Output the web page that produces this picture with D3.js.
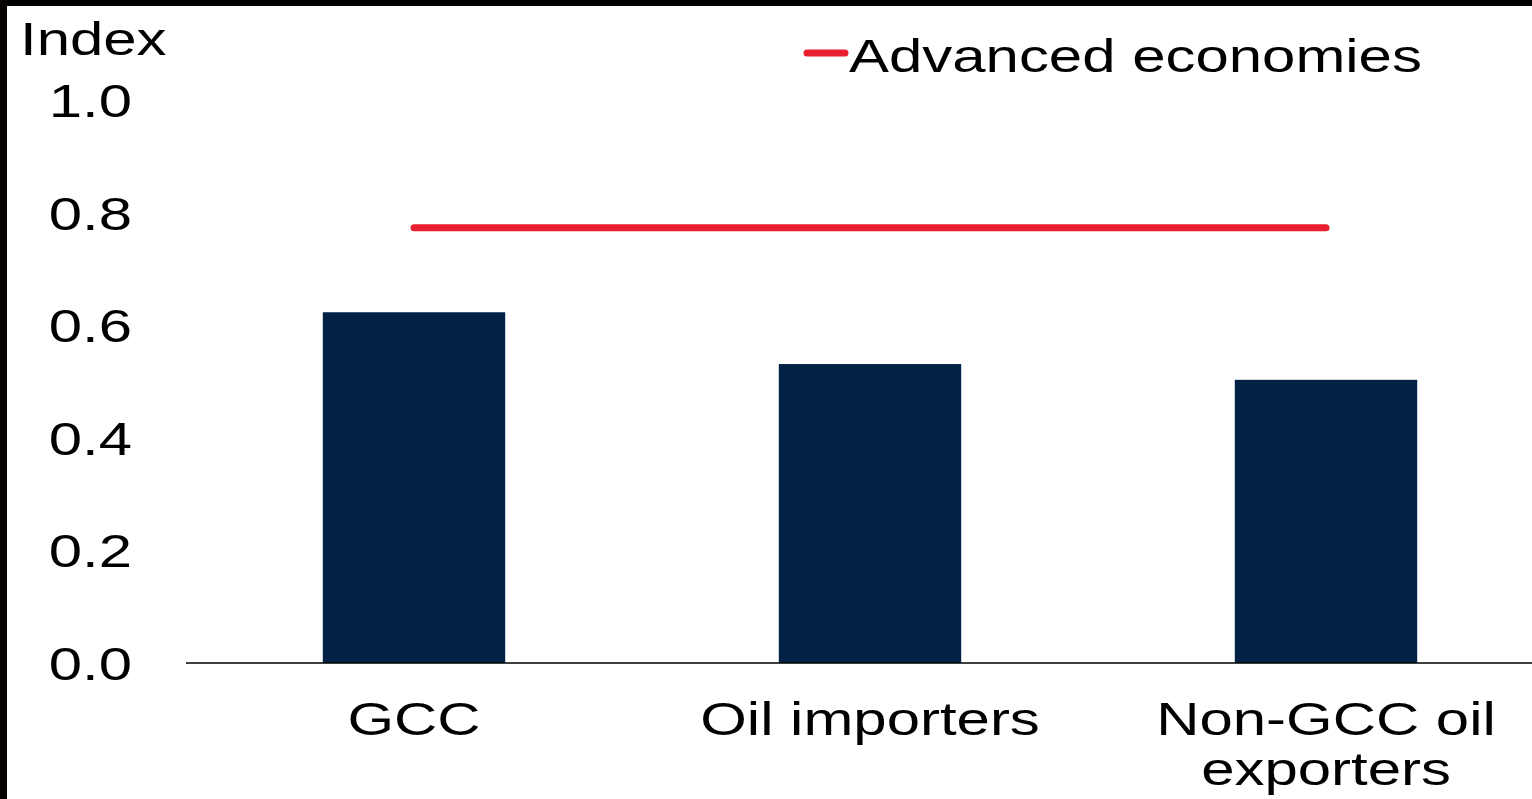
<!DOCTYPE html>
<html>
<head>
<meta charset="utf-8">
<script src="https://cdn.jsdelivr.net/npm/d3@7"></script>
<style>
  html, body { margin: 0; padding: 0; background: #fff; }
  svg { display: block; }
  text { font-family: "Liberation Sans", Arial, Helvetica, sans-serif; fill: #000; }
</style>
</head>
<body>
<svg id="chart" width="1532" height="799"></svg>
<script>
// Index values by country group, with the advanced-economy benchmark
const categories = ["GCC", "Oil importers", "Non-GCC oil exporters"];
const categoryLines = [["GCC"], ["Oil importers"], ["Non-GCC oil", "exporters"]];
const groupValues = [0.623, 0.531, 0.503];
const advancedValues = [0.773, 0.773, 0.773];
const yTickValues = [0.0, 0.2, 0.4, 0.6, 0.8, 1.0];
const legendLabel = "Advanced economies";
const axisTitle = "Index";

const W = 1532, H = 799;
const FONT = 47, STRETCH = 1.275;
const NAVY = "#012245", RED = "#E8202F";

const svg = d3.select("#chart");

// frame edges
svg.append("rect").attr("x", 0).attr("y", 0).attr("width", W).attr("height", 6).attr("fill", "#000");
svg.append("rect").attr("x", 0).attr("y", 0).attr("width", 7).attr("height", H).attr("fill", "#050200");

const x = d3.scaleBand().domain(categories).range([186, 1554]).paddingInner(0.6).paddingOuter(0.3);
const y = d3.scaleLinear().domain([0, 1]).range([663, 100]);

// helper: wide text drawn at a point with horizontal stretch
function label(g, px, py, str, anchor) {
  return g.append("g")
    .attr("transform", `translate(${px},${py}) scale(${STRETCH},1)`)
    .append("text")
    .attr("font-size", FONT)
    .attr("text-anchor", anchor || "start")
    .text(str);
}

// bars
svg.append("g").selectAll("rect")
  .data(categories)
  .join("rect")
  .attr("x", d => x(d))
  .attr("width", x.bandwidth())
  .attr("y", (d, i) => y(groupValues[i]))
  .attr("height", (d, i) => y(0) - y(groupValues[i]))
  .attr("fill", NAVY);

// baseline
svg.append("line")
  .attr("x1", 186).attr("x2", W)
  .attr("y1", y(0)).attr("y2", y(0))
  .attr("stroke", "#000").attr("stroke-width", 1.5);

// benchmark line
const line = d3.line()
  .x((d, i) => x(categories[i]) + x.bandwidth() / 2)
  .y(d => y(d));
svg.append("path")
  .datum(advancedValues)
  .attr("d", line)
  .attr("fill", "none")
  .attr("stroke", RED)
  .attr("stroke-width", 7)
  .attr("stroke-linecap", "round");

// y tick labels
const yTicks = svg.append("g");
yTickValues.forEach(v => {
  label(yTicks, 132, y(v) + 17, d3.format(".1f")(v), "end");
});

// axis title
label(svg, 20, 55, axisTitle, "start");

// category labels
const xLabels = svg.append("g");
categories.forEach((c, i) => {
  const cx = x(c) + x.bandwidth() / 2;
  categoryLines[i].forEach((ln, j) => {
    label(xLabels, cx, 735 + j * 50, ln, "middle");
  });
});

// legend
svg.append("line")
  .attr("x1", 807).attr("x2", 845)
  .attr("y1", 53).attr("y2", 53)
  .attr("stroke", RED).attr("stroke-width", 7)
  .attr("stroke-linecap", "round");
label(svg, 849, 72, legendLabel, "start");
</script>
</body>
</html>
